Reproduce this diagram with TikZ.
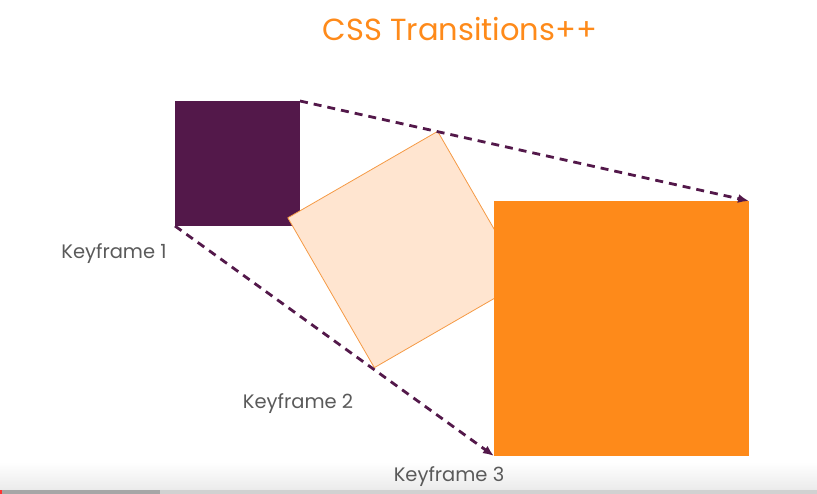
\documentclass[tikz,border=0pt]{standalone}
\usepackage{fontspec}
\setmainfont{Poppins}
\usetikzlibrary{arrows.meta}
\definecolor{kfpurple}{HTML}{53184A}
\definecolor{kforange}{HTML}{FE8A1A}
\definecolor{kfpeach}{HTML}{FFE5D0}
\definecolor{kfedge}{HTML}{F59A45}
\definecolor{kfgrey}{HTML}{5A5A5A}
\tikzset{
  frame/.style={inner sep=0, outer sep=0, minimum size=#1},
  path/.style={kfpurple, line width=2.8pt, dash pattern=on 8pt off 6pt, -{Latex[length=11pt,width=9pt]}},
  kflabel/.style={text=kfgrey, font=\fontsize{19.5}{22}\selectfont}
}

\begin{document}
\begin{tikzpicture}[x=1pt, y=-1pt]
			%%%%% START %%%%%
			\useasboundingbox (0, 0) rectangle (817, 494);
			
			% player bar
			\shade[top color=white, bottom color=black!8] (0, 462) rectangle (817, 490);
			\fill[black!18] (0, 490) rectangle (817, 494);
			\fill[black!35] (0, 490) rectangle (160, 494);
			\fill[red!80] (0, 490) rectangle (2, 494);
			
			\node[text=kforange, font=\fontsize{30.5}{34}\selectfont] (title) at (460, 29) {CSS Transitions++};
			
			\node[frame=125pt, fill=kfpurple] (kf1) at (237.5, 163.5) {};
			\node[frame=173pt, fill=kfpeach, draw=kfedge, line width=0.8pt, rotate=30] (kf2) at (406, 249.5) {};
			\node[frame=255pt, fill=kforange] (kf3) at (621.5, 328.5) {};
			
			\draw[path] (kf1.north east) -- (kf3.north east);
			\draw[path] (kf1.south west) -- (kf3.south west);
			
			\node[kflabel] (lbl1) at (114, 254) {Keyframe 1};
			\node[kflabel] (lbl2) at (298, 404) {Keyframe 2};
			\node[kflabel] (lbl3) at (449, 477) {Keyframe 3};
			%%%%% END %%%%%
\end{tikzpicture}
\end{document}
